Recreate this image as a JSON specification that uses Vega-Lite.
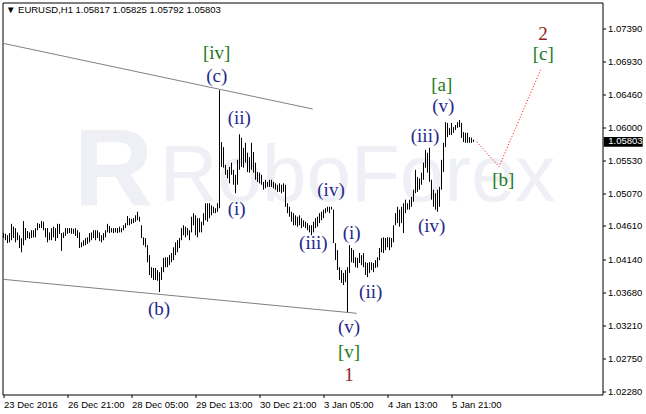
{
"$schema": "https://vega.github.io/schema/vega-lite/v6.json",
"width": 600, "height": 392,
"autosize": {"type": "none"},
"padding": {"left": 2.5, "top": 2.5, "right": 43.5, "bottom": 19.5},
"background": "white",
"config": {"view": {"stroke": "black", "strokeWidth": 1}},
"resolve": {"axis": {"x": "independent", "y": "independent"}},
"datasets": {
"bars": [
{"i":0,"h":1.0451,"l":1.0444},{"i":1,"h":1.0450,"l":1.0441},{"i":2,"h":1.0448,"l":1.0437},{"i":3,"h":1.0451,"l":1.0438},{"i":4,"h":1.0464,"l":1.0441},{"i":5,"h":1.0460,"l":1.0444},{"i":6,"h":1.0458,"l":1.0438},{"i":7,"h":1.0452,"l":1.0441},{"i":8,"h":1.0448,"l":1.0430},{"i":9,"h":1.0444,"l":1.0424},
{"i":10,"h":1.0468,"l":1.0434},{"i":11,"h":1.0458,"l":1.0441},{"i":12,"h":1.0454,"l":1.0444},{"i":13,"h":1.0452,"l":1.0443},{"i":14,"h":1.0455,"l":1.0444},{"i":15,"h":1.0455,"l":1.0445},{"i":16,"h":1.0458,"l":1.0445},{"i":17,"h":1.0465,"l":1.0455},{"i":18,"h":1.0464,"l":1.0458},{"i":19,"h":1.0468,"l":1.0458},
{"i":20,"h":1.0467,"l":1.0455},{"i":21,"h":1.0458,"l":1.0445},{"i":22,"h":1.0458,"l":1.0438},{"i":23,"h":1.0452,"l":1.0441},{"i":24,"h":1.0458,"l":1.0441},{"i":25,"h":1.0460,"l":1.0445},{"i":26,"h":1.0458,"l":1.0440},{"i":27,"h":1.0464,"l":1.0444},{"i":28,"h":1.0464,"l":1.0450},{"i":29,"h":1.0451,"l":1.0426},
{"i":30,"h":1.0452,"l":1.0444},{"i":31,"h":1.0458,"l":1.0447},{"i":32,"h":1.0458,"l":1.0450},{"i":33,"h":1.0458,"l":1.0451},{"i":34,"h":1.0458,"l":1.0450},{"i":35,"h":1.0457,"l":1.0450},{"i":36,"h":1.0458,"l":1.0447},{"i":37,"h":1.0455,"l":1.0444},{"i":38,"h":1.0452,"l":1.0430},{"i":39,"h":1.0438,"l":1.0431},
{"i":40,"h":1.0441,"l":1.0433},{"i":41,"h":1.0444,"l":1.0434},{"i":42,"h":1.0445,"l":1.0436},{"i":43,"h":1.0451,"l":1.0438},{"i":44,"h":1.0452,"l":1.0441},{"i":45,"h":1.0455,"l":1.0444},{"i":46,"h":1.0455,"l":1.0441},{"i":47,"h":1.0455,"l":1.0444},{"i":48,"h":1.0452,"l":1.0440},{"i":49,"h":1.0448,"l":1.0438},
{"i":50,"h":1.0451,"l":1.0441},{"i":51,"h":1.0455,"l":1.0445},{"i":52,"h":1.0464,"l":1.0452},{"i":53,"h":1.0461,"l":1.0451},{"i":54,"h":1.0458,"l":1.0452},{"i":55,"h":1.0458,"l":1.0451},{"i":56,"h":1.0458,"l":1.0452},{"i":57,"h":1.0458,"l":1.0451},{"i":58,"h":1.0460,"l":1.0452},{"i":59,"h":1.0458,"l":1.0452},
{"i":60,"h":1.0462,"l":1.0455},{"i":61,"h":1.0465,"l":1.0458},{"i":62,"h":1.0475,"l":1.0462},{"i":63,"h":1.0472,"l":1.0462},{"i":64,"h":1.0471,"l":1.0464},{"i":65,"h":1.0472,"l":1.0465},{"i":66,"h":1.0476,"l":1.0467},{"i":67,"h":1.0481,"l":1.0469},{"i":68,"h":1.0474,"l":1.0467},{"i":69,"h":1.0462,"l":1.0444},
{"i":70,"h":1.0445,"l":1.0434},{"i":71,"h":1.0444,"l":1.0431},{"i":72,"h":1.0434,"l":1.0410},{"i":73,"h":1.0420,"l":1.0392},{"i":74,"h":1.0403,"l":1.0388},{"i":75,"h":1.0402,"l":1.0385},{"i":76,"h":1.0402,"l":1.0385},{"i":77,"h":1.0399,"l":1.0384},{"i":78,"h":1.0396,"l":1.0368},{"i":79,"h":1.0403,"l":1.0385},
{"i":80,"h":1.0416,"l":1.0396},{"i":81,"h":1.0417,"l":1.0403},{"i":82,"h":1.0417,"l":1.0403},{"i":83,"h":1.0420,"l":1.0406},{"i":84,"h":1.0423,"l":1.0410},{"i":85,"h":1.0431,"l":1.0413},{"i":86,"h":1.0438,"l":1.0420},{"i":87,"h":1.0441,"l":1.0424},{"i":88,"h":1.0444,"l":1.0430},{"i":89,"h":1.0458,"l":1.0441},
{"i":90,"h":1.0462,"l":1.0448},{"i":91,"h":1.0460,"l":1.0445},{"i":92,"h":1.0458,"l":1.0448},{"i":93,"h":1.0455,"l":1.0441},{"i":94,"h":1.0474,"l":1.0452},{"i":95,"h":1.0479,"l":1.0462},{"i":96,"h":1.0476,"l":1.0448},{"i":97,"h":1.0472,"l":1.0445},{"i":98,"h":1.0472,"l":1.0452},{"i":99,"h":1.0467,"l":1.0452},
{"i":100,"h":1.0479,"l":1.0462},{"i":101,"h":1.0493,"l":1.0469},{"i":102,"h":1.0493,"l":1.0467},{"i":103,"h":1.0493,"l":1.0472},{"i":104,"h":1.0490,"l":1.0476},{"i":105,"h":1.0488,"l":1.0479},{"i":106,"h":1.0486,"l":1.0479},{"i":107,"h":1.0493,"l":1.0481},{"i":108,"h":1.0652,"l":1.0486},{"i":109,"h":1.0579,"l":1.0544},
{"i":110,"h":1.0572,"l":1.0543},{"i":111,"h":1.0547,"l":1.0533},{"i":112,"h":1.0540,"l":1.0528},{"i":113,"h":1.0544,"l":1.0521},{"i":114,"h":1.0550,"l":1.0533},{"i":115,"h":1.0540,"l":1.0519},{"i":116,"h":1.0533,"l":1.0507},{"i":117,"h":1.0554,"l":1.0519},{"i":118,"h":1.0590,"l":1.0540},{"i":119,"h":1.0585,"l":1.0544},
{"i":120,"h":1.0571,"l":1.0543},{"i":121,"h":1.0578,"l":1.0550},{"i":122,"h":1.0564,"l":1.0537},{"i":123,"h":1.0558,"l":1.0536},{"i":124,"h":1.0578,"l":1.0540},{"i":125,"h":1.0565,"l":1.0536},{"i":126,"h":1.0550,"l":1.0526},{"i":127,"h":1.0537,"l":1.0523},{"i":128,"h":1.0536,"l":1.0521},{"i":129,"h":1.0533,"l":1.0519},
{"i":130,"h":1.0523,"l":1.0512},{"i":131,"h":1.0526,"l":1.0514},{"i":132,"h":1.0523,"l":1.0516},{"i":133,"h":1.0526,"l":1.0516},{"i":134,"h":1.0526,"l":1.0516},{"i":135,"h":1.0523,"l":1.0514},{"i":136,"h":1.0521,"l":1.0512},{"i":137,"h":1.0519,"l":1.0509},{"i":138,"h":1.0521,"l":1.0509},{"i":139,"h":1.0519,"l":1.0507},
{"i":140,"h":1.0521,"l":1.0509},{"i":141,"h":1.0519,"l":1.0488},{"i":142,"h":1.0493,"l":1.0479},{"i":143,"h":1.0488,"l":1.0474},{"i":144,"h":1.0481,"l":1.0467},{"i":145,"h":1.0479,"l":1.0462},{"i":146,"h":1.0476,"l":1.0462},{"i":147,"h":1.0474,"l":1.0460},{"i":148,"h":1.0476,"l":1.0462},{"i":149,"h":1.0472,"l":1.0458},
{"i":150,"h":1.0469,"l":1.0460},{"i":151,"h":1.0467,"l":1.0458},{"i":152,"h":1.0465,"l":1.0455},{"i":153,"h":1.0462,"l":1.0452},{"i":154,"h":1.0462,"l":1.0448},{"i":155,"h":1.0467,"l":1.0452},{"i":156,"h":1.0472,"l":1.0458},{"i":157,"h":1.0474,"l":1.0460},{"i":158,"h":1.0479,"l":1.0465},{"i":159,"h":1.0481,"l":1.0469},
{"i":160,"h":1.0484,"l":1.0472},{"i":161,"h":1.0486,"l":1.0479},{"i":162,"h":1.0488,"l":1.0481},{"i":163,"h":1.0488,"l":1.0479},{"i":164,"h":1.0488,"l":1.0484},{"i":165,"h":1.0484,"l":1.0437},{"i":166,"h":1.0437,"l":1.0413},{"i":167,"h":1.0427,"l":1.0399},{"i":168,"h":1.0403,"l":1.0385},{"i":169,"h":1.0399,"l":1.0381},
{"i":170,"h":1.0395,"l":1.0378},{"i":171,"h":1.0399,"l":1.0382},{"i":172,"h":1.0403,"l":1.0340},{"i":173,"h":1.0434,"l":1.0395},{"i":174,"h":1.0430,"l":1.0410},{"i":175,"h":1.0427,"l":1.0409},{"i":176,"h":1.0417,"l":1.0403},{"i":177,"h":1.0416,"l":1.0402},{"i":178,"h":1.0423,"l":1.0409},{"i":179,"h":1.0420,"l":1.0406},
{"i":180,"h":1.0423,"l":1.0403},{"i":181,"h":1.0410,"l":1.0392},{"i":182,"h":1.0409,"l":1.0389},{"i":183,"h":1.0410,"l":1.0395},{"i":184,"h":1.0410,"l":1.0399},{"i":185,"h":1.0409,"l":1.0396},{"i":186,"h":1.0413,"l":1.0402},{"i":187,"h":1.0417,"l":1.0403},{"i":188,"h":1.0430,"l":1.0413},{"i":189,"h":1.0444,"l":1.0424},
{"i":190,"h":1.0445,"l":1.0423},{"i":191,"h":1.0444,"l":1.0427},{"i":192,"h":1.0445,"l":1.0431},{"i":193,"h":1.0445,"l":1.0427},{"i":194,"h":1.0444,"l":1.0431},{"i":195,"h":1.0462,"l":1.0438},{"i":196,"h":1.0479,"l":1.0462},{"i":197,"h":1.0488,"l":1.0465},{"i":198,"h":1.0484,"l":1.0460},{"i":199,"h":1.0488,"l":1.0465},
{"i":200,"h":1.0493,"l":1.0451},{"i":201,"h":1.0498,"l":1.0479},{"i":202,"h":1.0493,"l":1.0484},{"i":203,"h":1.0498,"l":1.0484},{"i":204,"h":1.0502,"l":1.0488},{"i":205,"h":1.0512,"l":1.0495},{"i":206,"h":1.0540,"l":1.0507},{"i":207,"h":1.0530,"l":1.0509},{"i":208,"h":1.0528,"l":1.0512},{"i":209,"h":1.0536,"l":1.0519},
{"i":210,"h":1.0550,"l":1.0526},{"i":211,"h":1.0568,"l":1.0543},{"i":212,"h":1.0564,"l":1.0536},{"i":213,"h":1.0571,"l":1.0523},{"i":214,"h":1.0526,"l":1.0498},{"i":215,"h":1.0512,"l":1.0488},{"i":216,"h":1.0507,"l":1.0484},{"i":217,"h":1.0512,"l":1.0481},{"i":218,"h":1.0516,"l":1.0488},{"i":219,"h":1.0554,"l":1.0512},
{"i":220,"h":1.0578,"l":1.0537},{"i":221,"h":1.0607,"l":1.0572},{"i":222,"h":1.0606,"l":1.0586},{"i":223,"h":1.0599,"l":1.0589},{"i":224,"h":1.0606,"l":1.0589},{"i":225,"h":1.0600,"l":1.0592},{"i":226,"h":1.0603,"l":1.0596},{"i":227,"h":1.0607,"l":1.0599},{"i":228,"h":1.0610,"l":1.0600},{"i":229,"h":1.0606,"l":1.0585},
{"i":230,"h":1.0593,"l":1.0579},{"i":231,"h":1.0592,"l":1.0578},{"i":232,"h":1.0592,"l":1.0578},{"i":233,"h":1.0586,"l":1.0578},{"i":234,"h":1.0585,"l":1.0578},{"i":235,"h":1.05825,"l":1.05792}
],
"chan": [
{"s":"upper","i":-0.25,"v":1.07179},{"s":"upper","i":154.6,"v":1.06255},
{"s":"lower","i":-0.25,"v":1.03860},{"s":"lower","i":176.6,"v":1.03382}
],
"proj": [
{"n":1,"i":236.6,"v":1.05795},{"n":2,"i":247.75,"v":1.05444},{"n":3,"i":268.75,"v":1.06818}
],
"labels": [
{"i":106.6,"v":1.07043,"t":"[iv]","k":"sq"},
{"i":106.6,"v":1.06723,"t":"(c)","k":"par"},
{"i":117.9,"v":1.06124,"t":"(ii)","k":"par"},
{"i":116.6,"v":1.04849,"t":"(i)","k":"par"},
{"i":77.75,"v":1.03438,"t":"(b)","k":"par"},
{"i":154.9,"v":1.04367,"t":"(iii)","k":"par"},
{"i":163.75,"v":1.05116,"t":"(iv)","k":"par"},
{"i":174.1,"v":1.04507,"t":"(i)","k":"par"},
{"i":183.6,"v":1.03686,"t":"(ii)","k":"par"},
{"i":172.75,"v":1.03194,"t":"(v)","k":"par"},
{"i":172.75,"v":1.02842,"t":"[v]","k":"sq"},
{"i":172.75,"v":1.02514,"t":"1","k":"num"},
{"i":210.75,"v":1.05876,"t":"(iii)","k":"par"},
{"i":214.1,"v":1.04614,"t":"(iv)","k":"par"},
{"i":219.9,"v":1.06297,"t":"(v)","k":"par"},
{"i":219.1,"v":1.06593,"t":"[a]","k":"sq"},
{"i":249.9,"v":1.05257,"t":"[b]","k":"sq"},
{"i":269.9,"v":1.07024,"t":"[c]","k":"sq"},
{"i":269.75,"v":1.07310,"t":"2","k":"num"}
]
},
"layer": [
{
"data": {"values": [{"t": "R"}]},
"mark": {"type": "text", "font": "Liberation Sans", "fontWeight": "bold", "fontSize": 110, "color": "#eef0f5", "align": "center", "baseline": "middle"},
"encoding": {
"text": {"field": "t"},
"x": {"datum": 55, "type": "quantitative", "scale": {"domain": [-0.5, 299.5], "nice": false, "zero": false}, "axis": null},
"y": {"datum": 1.0536, "type": "quantitative", "scale": {"domain": [1.0224, 1.07753], "nice": false, "zero": false}, "axis": null}
}
},
{
"data": {"values": [{"t": "RoboForex"}]},
"mark": {"type": "text", "font": "Liberation Sans", "fontSize": 80, "color": "#eef0f5", "align": "center", "baseline": "middle"},
"encoding": {
"text": {"field": "t"},
"x": {"datum": 177, "type": "quantitative", "scale": {"domain": [-0.5, 299.5], "nice": false, "zero": false}, "axis": null},
"y": {"datum": 1.0530, "type": "quantitative", "scale": {"domain": [1.0224, 1.07753], "nice": false, "zero": false}, "axis": null}
}
},
{
"data": {"name": "chan"},
"mark": {"type": "line", "color": "#808080", "strokeWidth": 1},
"encoding": {
"detail": {"field": "s"},
"x": {"field": "i", "type": "quantitative", "scale": {"domain": [-0.5, 299.5], "nice": false, "zero": false}, "axis": null},
"y": {"field": "v", "type": "quantitative", "scale": {"domain": [1.0224, 1.07753], "nice": false, "zero": false}, "axis": null}
}
},
{
"data": {"name": "proj"},
"mark": {"type": "line", "color": "#ff0000", "strokeWidth": 1, "strokeDash": [1, 2]},
"encoding": {
"order": {"field": "n"},
"x": {"field": "i", "type": "quantitative", "scale": {"domain": [-0.5, 299.5], "nice": false, "zero": false}, "axis": null},
"y": {"field": "v", "type": "quantitative", "scale": {"domain": [1.0224, 1.07753], "nice": false, "zero": false}, "axis": null}
}
},
{
"data": {"name": "bars"},
"mark": {"type": "rule", "color": "black", "strokeWidth": 1},
"encoding": {
"x": {"field": "i", "type": "quantitative", "scale": {"domain": [-0.5, 299.5], "nice": false, "zero": false},
  "axis": {"orient": "bottom", "values": [0, 32, 64, 96, 128, 160, 192, 224], "labelExpr": "['23 Dec 2016','26 Dec 21:00','28 Dec 05:00','29 Dec 13:00','30 Dec 21:00','3 Jan 05:00','4 Jan 13:00','5 Jan 21:00'][round(datum.value/32)]", "title": null, "grid": false, "domain": false, "ticks": true, "tickSize": 3, "tickColor": "black", "labelAlign": "left", "labelBaseline": "top", "labelPadding": 2, "labelFont": "Liberation Sans", "labelFontSize": 9.5, "labelColor": "black", "labelFlush": false, "labelOverlap": false}},
"y": {"field": "h", "type": "quantitative", "scale": {"domain": [1.0224, 1.07753], "nice": false, "zero": false},
  "axis": {"orient": "right", "values": [1.0228, 1.0275, 1.0321, 1.0368, 1.0414, 1.0461, 1.0507, 1.0553, 1.06, 1.0646, 1.0693, 1.0739], "format": ".5f", "title": null, "grid": false, "domain": false, "ticks": true, "tickSize": 3, "tickColor": "black", "labelPadding": 2, "labelFont": "Liberation Sans", "labelFontSize": 9.5, "labelColor": "black", "labelFlush": false, "labelOverlap": false}},
"y2": {"field": "l"}
}
},
{
"data": {"name": "labels"},
"mark": {"type": "text", "font": "Liberation Serif", "fontSize": 19, "align": "center", "baseline": "middle"},
"encoding": {
"text": {"field": "t"},
"color": {"field": "k", "type": "nominal", "scale": {"domain": ["par", "sq", "num"], "range": ["#26288c", "#1b7a1b", "#8b1e1e"]}, "legend": null},
"x": {"field": "i", "type": "quantitative", "scale": {"domain": [-0.5, 299.5], "nice": false, "zero": false}, "axis": null},
"y": {"field": "v", "type": "quantitative", "scale": {"domain": [1.0224, 1.07753], "nice": false, "zero": false}, "axis": null}
}
},
{
"data": {"values": [{"t": "▼ EURUSD,H1  1.05817 1.05825 1.05792 1.05803"}]},
"mark": {"type": "text", "font": "Liberation Sans", "fontSize": 9.5, "color": "black", "align": "left", "baseline": "middle"},
"encoding": {
"text": {"field": "t"},
"x": {"datum": 1.25, "type": "quantitative", "scale": {"domain": [-0.5, 299.5], "nice": false, "zero": false}, "axis": null},
"y": {"datum": 1.07647, "type": "quantitative", "scale": {"domain": [1.0224, 1.07753], "nice": false, "zero": false}, "axis": null}
}
},
{
"data": {"values": [{"p": 1.05803}]},
"mark": {"type": "rect", "color": "black"},
"encoding": {
"x": {"datum": 300.1, "type": "quantitative", "scale": {"domain": [-0.5, 299.5], "nice": false, "zero": false}, "axis": null},
"x2": {"datum": 319.6},
"y": {"datum": 1.05860, "type": "quantitative", "scale": {"domain": [1.0224, 1.07753], "nice": false, "zero": false}, "axis": null},
"y2": {"datum": 1.05725}
}
},
{
"data": {"values": [{"p": 1.05803}]},
"mark": {"type": "text", "font": "Liberation Sans", "fontSize": 9.5, "color": "white", "align": "left", "baseline": "middle"},
"encoding": {
"text": {"field": "p", "format": ".5f"},
"x": {"datum": 302.4, "type": "quantitative", "scale": {"domain": [-0.5, 299.5], "nice": false, "zero": false}, "axis": null},
"y": {"field": "p", "type": "quantitative", "scale": {"domain": [1.0224, 1.07753], "nice": false, "zero": false}, "axis": null}
}
}
]
}
